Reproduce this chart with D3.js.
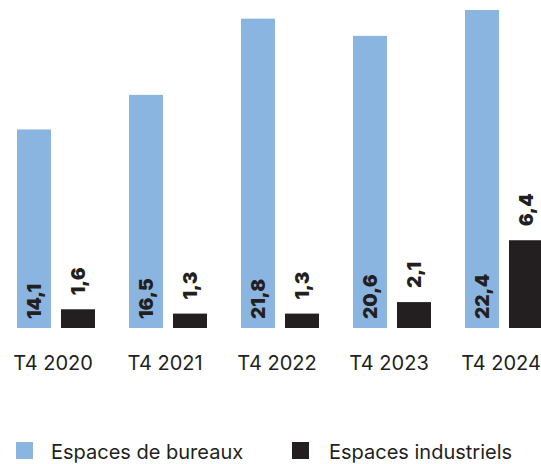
<!DOCTYPE html>
<html>
<head>
<meta charset="utf-8">
<script src="https://cdn.jsdelivr.net/npm/d3@7"></script>
<style>
  body { margin: 0; background: #fff; }
  svg { display: block; font-family: Inter, "Noto Sans", sans-serif; }
  .tick text { fill: #231f20; }
</style>
</head>
<body>
<div id="chart"></div>
<script>
// data
var periods = ["T4 2020", "T4 2021", "T4 2022", "T4 2023", "T4 2024"];
var bureaux = [14.1, 16.5, 21.8, 20.6, 22.4];
var industriels = [1.6, 1.3, 1.3, 2.1, 6.4];
var seriesKeys = ["bureaux", "industriels"];
var seriesNames = ["Espaces de bureaux", "Espaces industriels"];
var seriesColors = ["#8bb5e1", "#231f20"];

var W = 541, H = 464;
var baseY = 328;

var svg = d3.select("#chart").append("svg")
    .attr("width", W)
    .attr("height", H);

var rows = periods.map(function(p, i){
    return {period: p, bureaux: bureaux[i], industriels: industriels[i]};
});

var x0 = d3.scaleBand()
    .domain(periods)
    .range([17, 543])
    .paddingInner(34 / 112)
    .paddingOuter(0);

var x1 = d3.scaleBand()
    .domain(seriesKeys)
    .range([0, x0.bandwidth()])
    .paddingInner(10 / 44);

// the original axis does not start at zero exactly
var y = d3.scaleLinear()
    .domain([0.3, 22.4])
    .range([baseY, 10]);

var color = d3.scaleOrdinal().domain(seriesKeys).range(seriesColors);

var fmt = function(v){ return d3.format(".1f")(v).replace(".", ","); };

var groups = svg.selectAll(".grp")
    .data(rows)
    .enter()
    .append("g")
    .classed("grp", true)
    .attr("transform", function(d){ return "translate(" + x0(d.period) + ",0)"; });

var cells = groups.selectAll(".cell")
    .data(function(d){
        return seriesKeys.map(function(k){ return {key: k, value: d[k]}; });
    })
    .enter()
    .append("g")
    .classed("cell", true);

cells.append("rect")
    .attr("x", function(d){ return x1(d.key); })
    .attr("width", x1.bandwidth())
    .attr("y", function(d){ return y(d.value); })
    .attr("height", function(d){ return baseY - y(d.value); })
    .attr("fill", function(d){ return color(d.key); });

cells.append("text")
    .attr("transform", function(d){
        var cx = x1(d.key) + x1.bandwidth() / 2;
        var ty = d.key == "bureaux" ? baseY - 9 : y(d.value) - 14;
        return "translate(" + cx + "," + ty + ") rotate(-90)";
    })
    .attr("dy", "0.36em")
    .attr("text-anchor", "start")
    .style("font-size", "19px")
    .style("font-weight", 900)
    .attr("fill", "#231f20")
    .text(function(d){ return fmt(d.value); });

// category axis
var axis = svg.append("g")
    .attr("transform", "translate(-3," + baseY + ")")
    .call(d3.axisBottom(x0).tickSize(0).tickPadding(28));
axis.select(".domain").remove();
axis.selectAll("text")
    .style("font-size", "20px")
    .style("font-family", "Inter, 'Noto Sans', sans-serif");

// legend
var legendX = [16, 292];
var legend = svg.selectAll(".legend")
    .data(seriesKeys)
    .enter()
    .append("g")
    .classed("legend", true)
    .attr("transform", function(d, i){ return "translate(" + legendX[i] + ",442)"; });

legend.append("rect")
    .attr("width", 17)
    .attr("height", 17)
    .attr("fill", function(d){ return color(d); });

legend.append("text")
    .attr("x", function(d, i){ return i == 0 ? 35 : 37; })
    .attr("y", 17)
    .style("font-size", "20px")
    .attr("fill", "#231f20")
    .text(function(d, i){ return seriesNames[i]; });
</script>
</body>
</html>
